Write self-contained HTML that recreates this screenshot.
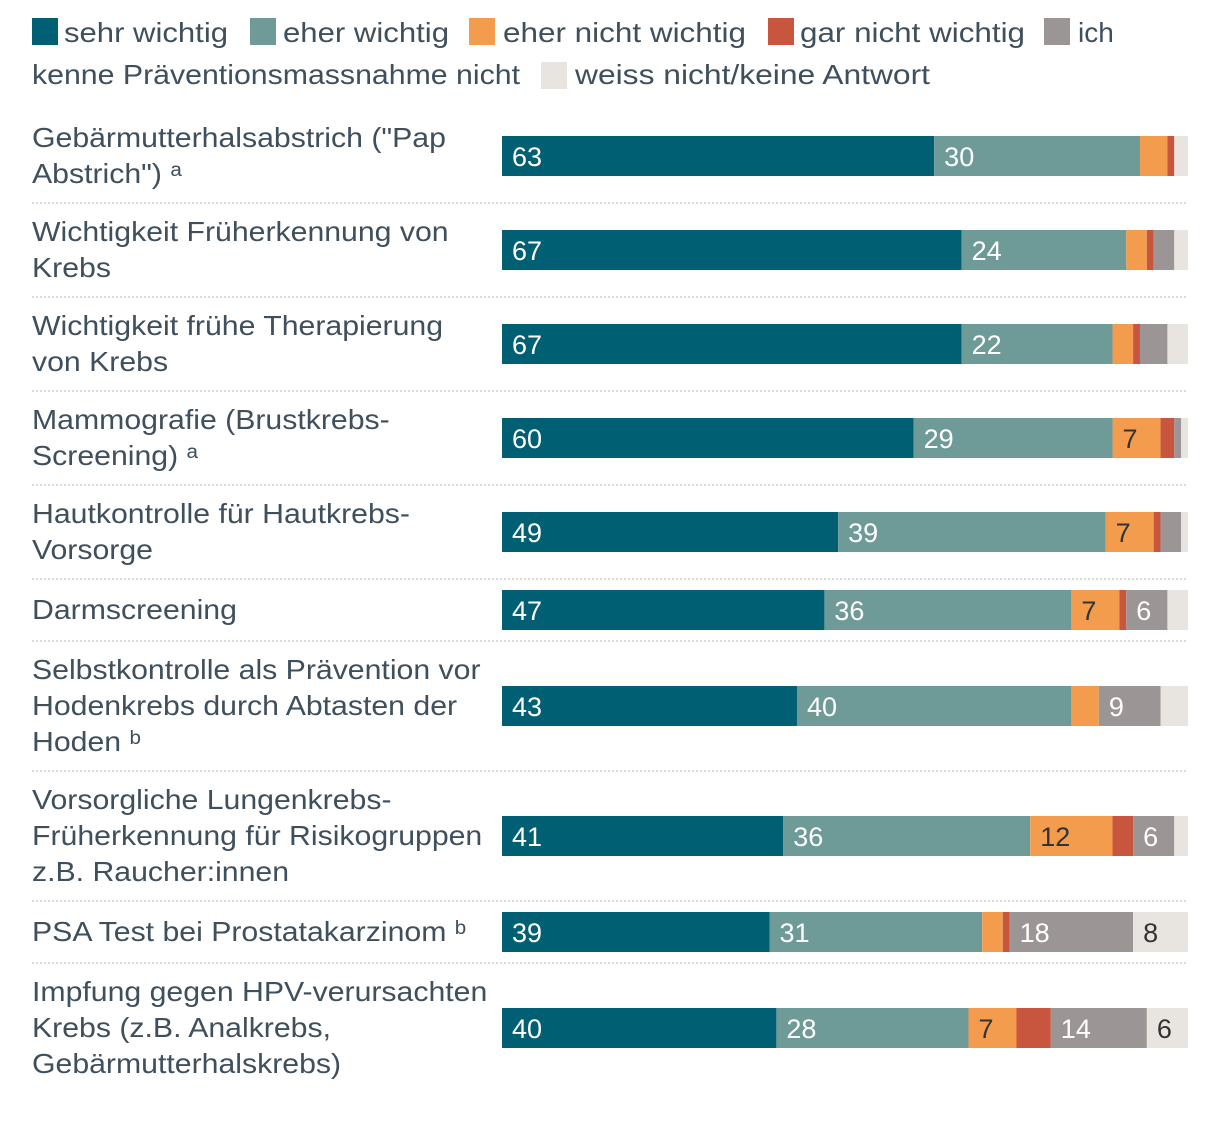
<!DOCTYPE html>
<html><head><meta charset="utf-8"><style>
html,body{margin:0;padding:0;background:#fff;}
svg{display:block;font-family:"Liberation Sans",sans-serif;}
</style></head><body>
<svg id="c" width="1220" height="1134" xmlns="http://www.w3.org/2000/svg"></svg>
<script>
const categories=[
 ['Gebärmutterhalsabstrich ("Pap','Abstrich") ᵃ'],
 ['Wichtigkeit Früherkennung von','Krebs'],
 ['Wichtigkeit frühe Therapierung','von Krebs'],
 ['Mammografie (Brustkrebs-','Screening) ᵃ'],
 ['Hautkontrolle für Hautkrebs-','Vorsorge'],
 ['Darmscreening'],
 ['Selbstkontrolle als Prävention vor','Hodenkrebs durch Abtasten der','Hoden ᵇ'],
 ['Vorsorgliche Lungenkrebs-','Früherkennung für Risikogruppen','z.B. Raucher:innen'],
 ['PSA Test bei Prostatakarzinom ᵇ'],
 ['Impfung gegen HPV-verursachten','Krebs (z.B. Analkrebs,','Gebärmutterhalskrebs)']
];
const sehrWichtig=[63,67,67,60,49,47,43,41,39,40];
const eherWichtig=[30,24,22,29,39,36,40,36,31,28];
const eherNicht=[4,3,3,7,7,7,4,12,3,7];
const garNicht=[1,1,1,2,1,1,0,3,1,5];
const kenneNicht=[0,3,4,1,3,6,9,6,18,14];
const weissNicht=[2,2,3,1,1,3,4,2,8,6];
const seriesNames=['sehr wichtig','eher wichtig','eher nicht wichtig','gar nicht wichtig','ich kenne Präventionsmassnahme nicht','weiss nicht/keine Antwort'];
const series=[sehrWichtig,eherWichtig,eherNicht,garNicht,kenneNicht,weissNicht];
const colors=['#005f73','#6e9a98','#f39c4e','#c8553d','#9c9596','#e8e4e0'];
const textCol=['#fff','#fff','#333','#fff','#fff','#333'];
const rowCenters=[156,250,344,438,532,610,706,836,932,1028];
const sepY=[203,297,391,485,579,641,771,901,963];
const x0=502,x1=1188;
const xs=v=>x0+v*(x1-x0)/100;
const svg=document.getElementById('c');
const NS='http://www.w3.org/2000/svg';
function mk(tag,attrs,parent){const e=document.createElementNS(NS,tag);for(const k in attrs)e.setAttribute(k,attrs[k]);(parent||svg).appendChild(e);return e;}
const TC='#3f4f5c';
const leg=[[32,18,64,42,164],[250,18,283,42,166],[469,18,503,42,243],[768,18,800,42,225],[1044,18,1078,42,null],[541,62,575,84,355]];
leg.forEach((l,i)=>{
 const g=mk('g',{});
 
 
 mk('rect',{x:l[0],y:l[1],width:26,height:27,fill:colors[i]},g);
 if(i===4){
  const t=mk('text',{x:1078,y:42,'font-size':28,fill:TC},g);t.textContent='ich';
  const t2=mk('text',{x:32,y:84,'font-size':28,fill:TC,textLength:488,lengthAdjust:'spacingAndGlyphs'},g);t2.textContent='kenne Präventionsmassnahme nicht';
 } else {
  const t=mk('text',{x:l[2],y:l[3],'font-size':28,fill:TC,textLength:l[4],lengthAdjust:'spacingAndGlyphs'},g);t.textContent=seriesNames[i];
 }
});
sepY.forEach(y=>{
 const s=mk('line',{x1:32,x2:1188,y1:y,y2:y,stroke:'#cfcfcf','stroke-width':1.5,'stroke-dasharray':'2,2'});
 
 
});
categories.forEach((lines,r)=>{
 const cy=rowCenters[r];
 const lab=mk('text',{x:0,'font-size':28,fill:TC,transform:'translate(32,0) scale(1.08,1)'});
 
 
 const first=cy+9-18*(lines.length-1);
 lines.forEach((ln,j)=>{const ts=mk('tspan',{x:0,y:first+36*j},lab);ts.textContent=ln;});
 let acc=0;
 series.forEach((s,k)=>{
  const v=s[r];
  if(v>0){
   const b=mk('rect',{x:xs(acc),y:cy-20,width:xs(acc+v)-xs(acc),height:40,fill:colors[k]});
   
   
   if(v>=6){
    const t=mk('text',{x:xs(acc)+10,y:cy+10,'font-size':27,fill:textCol[k]});
    
    
    t.textContent=v;
   }
  }
  acc+=v;
 });
});
</script>
</body></html>
